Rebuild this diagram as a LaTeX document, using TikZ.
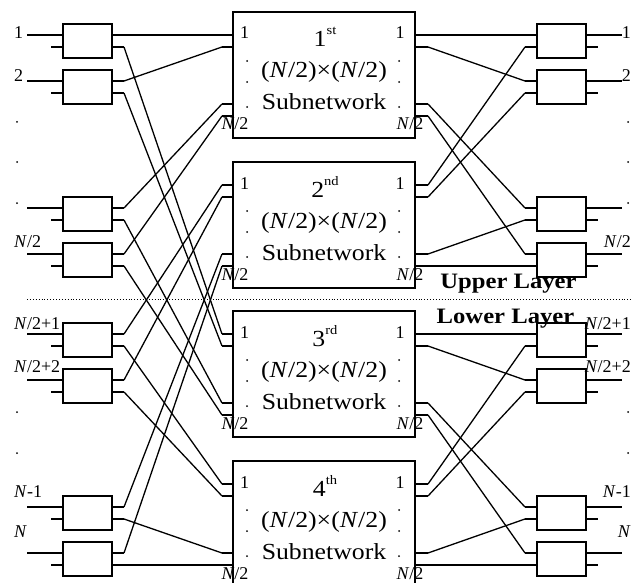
\documentclass[tikz,border=0pt]{standalone}
\usepackage{fontspec}
\setmainfont{Liberation Serif}
\newfontfamily\widefont{Liberation Serif}[FakeStretch=1.12]
\usetikzlibrary{calc}

\tikzset{
  switch/.style={draw, line width=1.6pt, minimum width=49pt, minimum height=34pt, inner sep=0pt},
  subnet/.style={draw, line width=1.6pt, minimum width=182pt, minimum height=126pt, inner sep=0pt},
  wire/.style={line width=1.3pt},
  port/.style={font=\fontsize{18}{18}\selectfont, inner sep=0pt},
  big/.style={font=\widefont\fontsize{23}{23}\selectfont, inner sep=0pt},
  layer/.style={font=\widefont\bfseries\fontsize{22}{22}\selectfont, inner sep=0pt},
}

\begin{document}
\begin{tikzpicture}[x=1pt, y=-1pt]
\useasboundingbox (0,0) rectangle (637,583);
\clip (0,0) rectangle (637,583);

% 2x2 switches on both sides
\foreach \i/\t in {1/24,2/70,3/197,4/243,5/323,6/369,7/496,8/542}
{
    \node[switch] (L\i) at (87.5,\t+17) {};
    \node[switch] (R\i) at (561.5,\t+17) {};
    % stub ends
    \coordinate (in\i) at (27,\t+11);
    \coordinate (inb\i) at (51,\t+23);
    \coordinate (L\i-a) at (124,\t+11);
    \coordinate (L\i-b) at (124,\t+23);
    \coordinate (R\i-a) at (525,\t+11);
    \coordinate (R\i-b) at (525,\t+23);
    \coordinate (out\i) at (622,\t+11);
    \coordinate (outb\i) at (598,\t+23);
    \draw[wire] (in\i) -- (L\i.west |- in\i);
    \draw[wire] (inb\i) -- (L\i.west |- inb\i);
    \draw[wire] (L\i.east |- L\i-a) -- (L\i-a);
    \draw[wire] (L\i.east |- L\i-b) -- (L\i-b);
    \draw[wire] (R\i-a) -- (R\i.west |- R\i-a);
    \draw[wire] (R\i-b) -- (R\i.west |- R\i-b);
    \draw[wire] (R\i.east |- out\i) -- (out\i);
    \draw[wire] (R\i.east |- outb\i) -- (outb\i);
}

% the four (N/2)x(N/2) subnetworks
\foreach \j/\t/\ord in {1/12/st,2/162/nd,3/311/rd,4/461/th}
{
    \node[subnet] (S\j) at (324,\t+63) {};
    \foreach \k/\d in {1/23,2/35,3/92,4/104}
    {
        \coordinate (S\j-\k) at (222,\t+\d);
        \coordinate (T\j-\k) at (428,\t+\d);
        \draw[wire] (S\j-\k) -- (S\j.west |- S\j-\k);
        \draw[wire] (S\j.east |- T\j-\k) -- (T\j-\k);
    }
    \node[big, anchor=base] (S\j-title) at (325,\t+35) {\j\raisebox{12pt}{\fontsize{13}{13}\selectfont\ord}};
    \node[big, anchor=base] (S\j-size) at (324,\t+66) {(\textit{N}/2)×(\textit{N}/2)};
    \node[big, anchor=base] (S\j-name) at (324,\t+98) {Subnetwork};
    \node[port, anchor=base] (S\j-in) at (244.5,\t+27) {1};
    \node[port, anchor=base] (S\j-out) at (400,\t+27) {1};
    \node[port, anchor=base] (S\j-inN) at (235,\t+118) {\textit{N}/2};
    \node[port, anchor=base] (S\j-outN) at (410,\t+118) {\textit{N}/2};
    \foreach \d in {49,70,95}
    {
        \fill (247,\t+\d) circle (1pt);
        \fill (399,\t+\d) circle (1pt);
    }
}

% first stage: every switch feeds one upper and one lower subnetwork
\foreach \k in {1,...,4}
{
    \pgfmathtruncatemacro{\m}{\k+4}
    \draw[wire] (L\k-a) -- (S1-\k);
    \draw[wire] (L\m-a) -- (S2-\k);
    \draw[wire] (L\k-b) -- (S3-\k);
    \draw[wire] (L\m-b) -- (S4-\k);
    % last stage stays inside its layer
    \draw[wire] (T1-\k) -- (R\k-a);
    \draw[wire] (T2-\k) -- (R\k-b);
    \draw[wire] (T3-\k) -- (R\m-a);
    \draw[wire] (T4-\k) -- (R\m-b);
}

% input labels
\node[port, anchor=base west] (inl1) at (14,39) {1};
\node[port, anchor=base west] (inl2) at (14,82) {2};
\node[port, anchor=base west] (inl3) at (14,247) {\textit{N}/2};
\node[port, anchor=base west] (inl4) at (14,329) {\textit{N}/2+1};
\node[port, anchor=base west] (inl5) at (14,372) {\textit{N}/2+2};
\node[port, anchor=base west] (inl6) at (14,497) {\textit{N}-1};
\node[port, anchor=base west] (inl7) at (14,537) {\textit{N}};

% output labels
\node[port, anchor=base east] (outl1) at (631,39) {1};
\node[port, anchor=base east] (outl2) at (631,82) {2};
\node[port, anchor=base east] (outl3) at (631,247) {\textit{N}/2};
\node[port, anchor=base east] (outl4) at (631,329) {\textit{N}/2+1};
\node[port, anchor=base east] (outl5) at (631,372) {\textit{N}/2+2};
\node[port, anchor=base east] (outl6) at (631,497) {\textit{N}-1};
\node[port, anchor=base east] (outl7) at (631,537) {\textit{N}};

% dots between the labels
\foreach \y in {122,162,203,412,453}
{
    \fill (17,\y) circle (1pt);
    \fill (628,\y) circle (1pt);
}

% layer separator
\coordinate (sepL) at (27,299);
\coordinate (sepR) at (632,299);
\draw[dotted, line width=0.9pt] (sepL) -- (sepR);
\node[layer, anchor=base] (upper) at (508.5,288) {Upper Layer};
\node[layer, anchor=base] (lower) at (505.5,323) {Lower Layer};

\end{tikzpicture}
\end{document}
